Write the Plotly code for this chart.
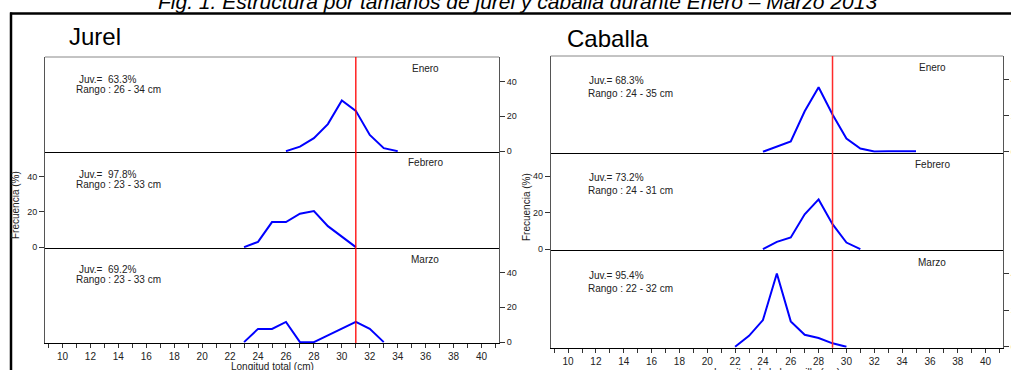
import plotly.graph_objects as go

W, H = 1011, 370

# ---------------- data ----------------
MESES = ["Enero", "Febrero", "Marzo"]

TALLAS_JUREL_ENE = [26, 27, 28, 29, 30, 31, 32, 33, 34]
FREC_JUREL_ENE = [0, 2.6, 7.4, 15.5, 29.1, 23.1, 9.3, 1.7, 0]
TALLAS_JUREL_FEB = [23, 24, 25, 26, 27, 28, 29, 30, 31]
FREC_JUREL_FEB = [0, 3.0, 14.2, 14.2, 19.0, 20.5, 11.9, 5.7, 0]
TALLAS_JUREL_MAR = [23, 24, 25, 26, 27, 28, 29, 30, 31, 32, 33]
FREC_JUREL_MAR = [0, 7.6, 7.6, 11.6, 0, 0, 3.9, 7.7, 11.6, 7.6, 0]

TALLAS_CAB_ENE = [24, 25, 26, 27, 28, 29, 30, 31, 32, 33, 34, 35]
FREC_CAB_ENE = [0, 2.7, 5.7, 22.4, 35.7, 20.6, 7.3, 1.8, 0.2, 0.3, 0.3, 0.3]
TALLAS_CAB_FEB = [24, 25, 26, 27, 28, 29, 30, 31]
FREC_CAB_FEB = [0, 4.0, 6.4, 19.1, 27.3, 13.7, 3.6, 0]
TALLAS_CAB_MAR = [22, 23, 24, 25, 26, 27, 28, 29, 30]
FREC_CAB_MAR = [0, 6.0, 14.6, 40.1, 13.9, 6.6, 4.8, 1.9, 0]

JUV_JUREL = ["63.3%", "97.8%", "69.2%"]
RANGO_JUREL = ["26 - 34", "23 - 33", "23 - 33"]
JUV_CAB = ["68.3%", "73.2%", "95.4%"]
RANGO_CAB = ["24 - 35", "24 - 31", "22 - 32"]

TALLA_MIN_JUREL = 31
TALLA_MIN_CABALLA = 29

X_TICKS = list(range(10, 41, 2))
Y_TICKS = [0, 20, 40]

TITULO = "Fig. 1. Estructura por tamaños de jurel y caballa durante Enero – Marzo 2013"

# ---------------- layout helpers ----------------
def px(p):
    return p / W


def py(p):
    return 1 - p / H


FONT = "Liberation Sans, Arial, sans-serif"
TXT = "#222222"

jurel_x = (45, 499)
cab_x = (550.7, 1003)
jurel_rows = [(57, 152), (152, 248), (248, 343)]
cab_rows = [(56, 152.7), (152.7, 250), (250, 347.7)]

series = [
    (TALLAS_JUREL_ENE, FREC_JUREL_ENE),
    (TALLAS_JUREL_FEB, FREC_JUREL_FEB),
    (TALLAS_JUREL_MAR, FREC_JUREL_MAR),
    (TALLAS_CAB_ENE, FREC_CAB_ENE),
    (TALLAS_CAB_FEB, FREC_CAB_FEB),
    (TALLAS_CAB_MAR, FREC_CAB_MAR),
]

fig = go.Figure()
layout = dict(
    width=W, height=H,
    margin=dict(l=0, r=0, t=0, b=0),
    paper_bgcolor="white", plot_bgcolor="white",
    showlegend=False, template="none",
    font=dict(family=FONT, color=TXT),
)

shapes = []
annotations = []


def note(text, x, y, size=10, xanchor="left", color=TXT, **kw):
    d = dict(text=text, x=px(x), y=py(y), xref="paper", yref="paper",
             showarrow=False, xanchor=xanchor, yanchor="middle",
             font=dict(size=size, color=color, family=FONT))
    d.update(kw)
    annotations.append(d)


for i in range(6):
    n = i + 1
    grupo = 0 if i < 3 else 1
    fila = i % 3
    xd = jurel_x if grupo == 0 else cab_x
    rows = jurel_rows if grupo == 0 else cab_rows
    top, bot = rows[fila]
    xs, ys = series[i]
    fig.add_trace(go.Scatter(
        x=xs, y=ys, mode="lines",
        line=dict(color="#0000ff", width=2),
        xaxis="x" if n == 1 else f"x{n}",
        yaxis="y" if n == 1 else f"y{n}",
        hoverinfo="x+y",
    ))
    xkey = "xaxis" if n == 1 else f"xaxis{n}"
    ykey = "yaxis" if n == 1 else f"yaxis{n}"
    xa = dict(
        domain=[px(xd[0]), px(xd[1])],
        range=[8.75, 41.25],
        anchor="y" if n == 1 else f"y{n}",
        showline=True, linecolor="black", linewidth=1.3,
        showgrid=False, zeroline=False, automargin=False,
        fixedrange=True,
    )
    if fila == 2:
        xa.update(
            ticks="outside", ticklen=4, tickwidth=1, tickcolor="#333",
            tickvals=X_TICKS, showticklabels=True,
            tickfont=dict(size=10, color=TXT, family=FONT),
            minor=dict(ticks="outside", dtick=1, tick0=0, ticklen=4,
                       tickcolor="#333", tickwidth=1),
        )
    else:
        xa.update(ticks="", showticklabels=False)
    layout[xkey] = xa

    ymax = 54 if grupo == 0 else 53
    layout[ykey] = dict(
        domain=[py(bot), py(top)],
        range=[-0.5, ymax],
        anchor="x" if n == 1 else f"x{n}",
        showline=True, mirror=True, linecolor="#555", linewidth=1,
        showgrid=False, zeroline=False, automargin=False,
        fixedrange=True,
        tickvals=Y_TICKS, ticks="outside", ticklen=5, tickcolor="#333",
        tickfont=dict(size=9, color=TXT, family=FONT),
        side="left" if fila == 1 else "right",
    )

    if fila == 0:
        shapes.append(dict(type="line", xref="paper", yref="paper",
                           x0=px(xd[0]), x1=px(xd[1]), y0=py(top), y1=py(top),
                           line=dict(color="#888", width=1)))

    if grupo == 0:
        note(MESES[fila], 425, [68, 163, 259][fila], xanchor="center")
        note("Juv.=\u00a0 " + JUV_JUREL[fila], 77, [79, 174, 269][fila])
        note(f"Rango : {RANGO_JUREL[fila]} cm", 74, [89, 184, 279][fila])
    else:
        note(MESES[fila], 932, [67, 164, 262][fila], xanchor="center")
        note("Juv.=\u00a0" + JUV_CAB[fila], 587, [80, 177, 275][fila])
        note(f"Rango : {RANGO_CAB[fila]} cm", 586, [93, 191, 288][fila])

# red reference lines (minimum legal size)
shapes.append(dict(type="line", xref="x", yref="paper",
                   x0=TALLA_MIN_JUREL, x1=TALLA_MIN_JUREL,
                   y0=py(jurel_rows[2][1]), y1=py(jurel_rows[0][0]),
                   line=dict(color="#ff0000", width=1.3), layer="above"))
shapes.append(dict(type="line", xref="x4", yref="paper",
                   x0=TALLA_MIN_CABALLA, x1=TALLA_MIN_CABALLA,
                   y0=py(cab_rows[2][1]), y1=py(cab_rows[0][0]),
                   line=dict(color="#ff2a2a", width=1.5), layer="above"))

# outer frame of the scanned figure
shapes.append(dict(type="line", xref="paper", yref="paper",
                   x0=px(10), x1=1, y0=py(13.5), y1=py(13.5),
                   line=dict(color="black", width=2.5)))
shapes.append(dict(type="line", xref="paper", yref="paper",
                   x0=px(11), x1=px(11), y0=py(12.5), y1=0,
                   line=dict(color="black", width=2.5)))

# titles
note("<i>" + TITULO + "</i>", 517, 1.5, size=21, xanchor="center", color="black")
note("Jurel", 67, 36, size=24, color="black")
note("Caballa", 565, 38, size=24, color="black")
note("Longitud total (cm)", 272, 366, xanchor="center")
note("Longitud de la horquilla (cm)", 777, 372, xanchor="center")
note("Frecuencia (%)", 15, 205, xanchor="center", textangle=-90)
note("Frecuencia (%)", 527, 207, xanchor="center", textangle=-90)

layout["shapes"] = shapes
layout["annotations"] = annotations
fig.update_layout(**layout)
fig.write_html(
    "out.html",
    config={"displayModeBar": False},
    post_script="document.body.style.margin='0px';document.body.style.overflow='hidden';",
)
